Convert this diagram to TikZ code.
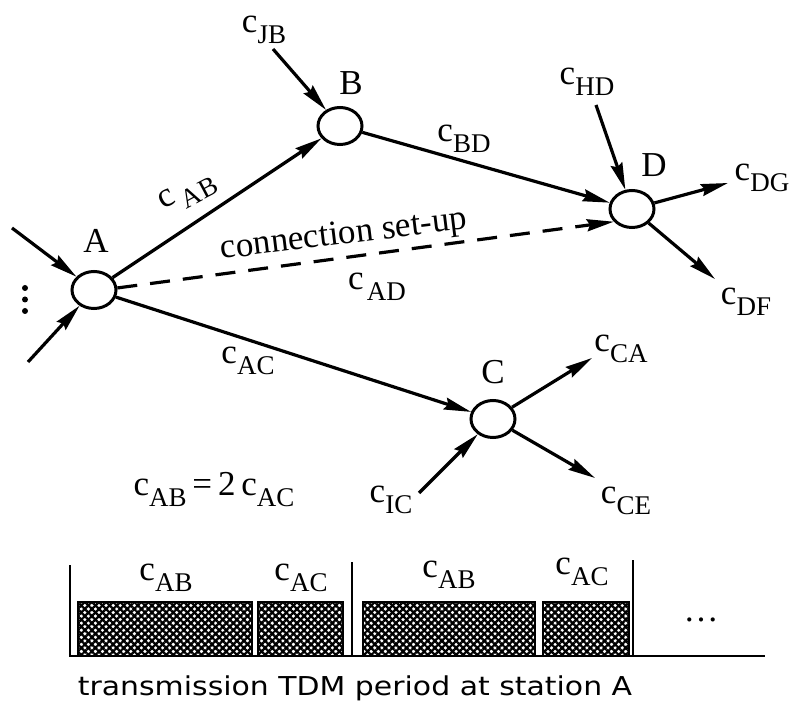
\documentclass[tikz,border=0pt]{standalone}
\usepackage{fontspec}
\setmainfont{Liberation Serif}
\newfontfamily\botfont{DejaVu Sans}
\usetikzlibrary{arrows.meta,shapes.geometric,patterns.meta}
\newcommand\cx[2][]{c#1\raisebox{-11pt}{\fontsize{27}{27}\selectfont #2}}
\begin{document}
\begin{tikzpicture}[x=1pt,y=-1pt,
  every node/.style={font=\fontsize{35}{40}\selectfont, inner sep=0pt},
  station/.style={ellipse, draw, line width=3pt, minimum width=44pt, minimum height=37pt},
  edge/.style={line width=3.2pt, -{Stealth[length=27pt,width=12pt,inset=3pt]}},
  setup/.style={edge, dash pattern=on 20pt off 13pt},
  axis/.style={line width=2.6pt},
  hatch/.style={draw, line width=2.2pt,
    preaction={pattern={Lines[angle=45,distance=5pt,line width=2.3pt]}},
    pattern={Lines[angle=-45,distance=5pt,line width=2.3pt]}},
  bottom/.style={font=\botfont\fontsize{26}{30}\selectfont}
]
\useasboundingbox (0,0) rectangle (793,708);
% stations
\node[station] (A) at (94,290) {};
\node[station] (B) at (340,126) {};
\node[station] (D) at (632,209) {};
\node[station] (C) at (493,419) {};
\node (labA) at (96,241) {A};
\node (labB) at (351,83) {B};
\node (labD) at (654,165) {D};
\node (labC) at (493,372) {C};
% free ends
\coordinate (inA1) at (12,228);
\coordinate (inA2) at (28,362);
\coordinate (inB) at (273,49);
\coordinate (inD) at (596,105);
\coordinate (outDG) at (728,183);
\coordinate (outDF) at (715,279);
\coordinate (outCA) at (592,358);
\coordinate (outCE) at (595,478);
\coordinate (inC) at (419,493);
% edges
\draw[edge] (A) -- (B);
\draw[edge] (B) -- (D);
\draw[edge] (A) -- (C);
\draw[setup] (A.5) -- (D.215);
\draw[edge] (inA1) -- (A);
\draw[edge] (inA2) -- (A);
\draw[edge] (inB) -- (B);
\draw[edge] (inD) -- (D);
\draw[edge] (D) -- (outDG);
\draw[edge] (D) -- (outDF);
\draw[edge] (C) -- (outCA);
\draw[edge] (C) -- (outCE);
\draw[edge] (inC) -- (C);
% edge labels
\node[rotate=28] (lAB) at (188,193) {\cx[\hspace{5pt}]{AB}};
\node[rotate=7] (lsetup) at (344,236) {connection set-up};
\node (lAD) at (377,287) {\cx[\hspace{3pt}]{AD}};
\node (lBD) at (464,139) {\cx{BD}};
\node (lAC) at (248,361) {\cx{AC}};
\node (lJB) at (264,30) {\cx{JB}};
\node (lHD) at (587,82) {\cx{HD}};
\node (lDG) at (762,178) {\cx{DG}};
\node (lDF) at (746,302) {\cx{DF}};
\node (lCA) at (621,349) {\cx{CA}};
\node (lCE) at (626,501) {\cx{CE}};
\node (lIC) at (391,500) {\cx{IC}};
\fill (25,288) circle (3pt) (25,299.5) circle (3pt) (25,311) circle (3pt);
\node (eq) at (214,490) {\cx{AB}\,=\,2\,\cx{AC}};
% TDM frame
\draw[hatch] (78,602) rectangle (252,656);
\draw[hatch] (258,602) rectangle (343,656);
\draw[hatch] (363,602) rectangle (535,656);
\draw[hatch] (543,602) rectangle (629,656);
\draw[axis] (70,565) -- (70,656) -- (765,656);
\draw[axis] (352,562) -- (352,656);
\draw[axis] (633,560) -- (633,656);
\node (sAB1) at (166,578) {\cx{AB}};
\node (sAC1) at (301,578) {\cx{AC}};
\node (sAB2) at (449,575) {\cx{AB}};
\node (sAC2) at (582,572) {\cx{AC}};
\node (hdots) at (701,620) {\ldots};
\node[bottom] (caption) at (355,688) {\scalebox{1.15}[1]{transmission TDM period at station A}};
\end{tikzpicture}
\end{document}
